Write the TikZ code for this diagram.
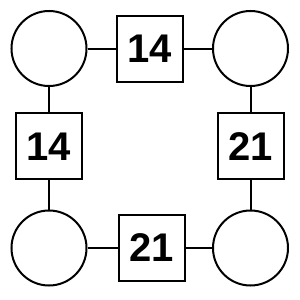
\documentclass[tikz,border=0pt]{standalone}
\usepackage{fontspec}
\setmainfont{Liberation Sans}
\begin{document}
\begin{tikzpicture}[x=1pt,y=-1pt,
  ring/.style={draw=black,line width=2pt,circle,minimum size=75pt,inner sep=0pt},
  numbox/.style={draw=black,line width=2pt,rectangle,minimum size=66pt,inner sep=0pt,font=\fontsize{40}{40}\selectfont\bfseries},
  link/.style={draw=black,line width=2pt}]
\useasboundingbox (0,0) rectangle (300,300);
\node[ring] (tl) at (49,48.5) {};
\node[ring] (tr) at (250.5,48.5) {};
\node[ring] (bl) at (49,248) {};
\node[ring] (br) at (250.5,248) {};
\node[numbox] (top) at (150,48.5) {14};
\node[numbox] (left) at (49,146.3) {14};
\node[numbox] (right) at (250.5,146.3) {21};
\node[numbox] (bottom) at (152,248) {21};
\draw[link] (tl) -- (top);
\draw[link] (top) -- (tr);
\draw[link] (tl) -- (left);
\draw[link] (left) -- (bl);
\draw[link] (bl) -- (bottom);
\draw[link] (bottom) -- (br);
\draw[link] (tr) -- (right);
\draw[link] (right) -- (br);
\end{tikzpicture}
\end{document}
